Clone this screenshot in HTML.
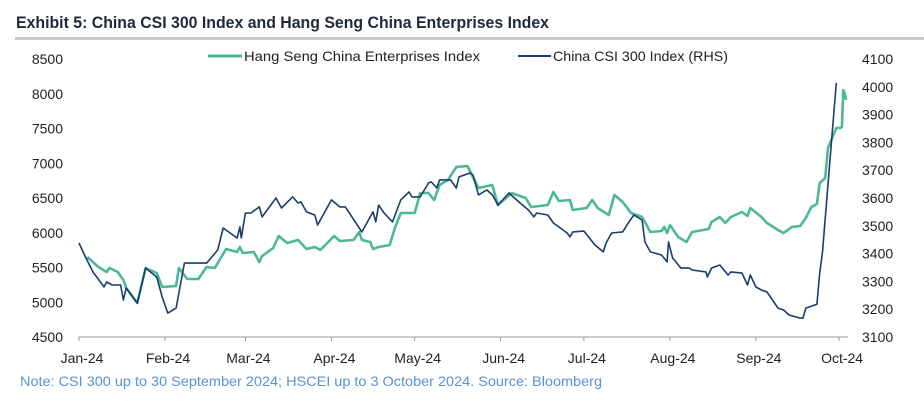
<!DOCTYPE html>
<html><head><meta charset="utf-8"><style>
body{margin:0;background:#fff;width:924px;height:407px;overflow:hidden;font-family:"Liberation Sans",sans-serif}
</style></head><body>
<svg id="chart" width="924" height="407" xmlns="http://www.w3.org/2000/svg">
<text x="16" y="28" font-size="16.5" font-weight="bold" fill="#1e2a3a" textLength="533" lengthAdjust="spacingAndGlyphs">Exhibit 5: China CSI 300 Index and Hang Seng China Enterprises Index</text>
<rect x="15" y="37" width="909" height="3" fill="#c8c8c8"/>
<g>
<line x1="208" y1="56" x2="242" y2="56" stroke="#4db898" stroke-width="3"/>
<text x="244" y="61" font-size="14" fill="#222" textLength="236" lengthAdjust="spacingAndGlyphs">Hang Seng China Enterprises Index</text>
<line x1="518" y1="56" x2="551" y2="56" stroke="#1a3c6e" stroke-width="2"/>
<text x="553" y="61" font-size="14" fill="#222" textLength="175" lengthAdjust="spacingAndGlyphs">China CSI 300 Index (RHS)</text>
</g>
<line x1="79" y1="337" x2="848" y2="337" stroke="#999" stroke-width="1"/>
<g id="marks"></g>
<text x="20" y="386" font-size="14" fill="#5b8fd6" textLength="582" lengthAdjust="spacingAndGlyphs">Note: CSI 300 up to 30 September 2024; HSCEI up to 3 October 2024. Source: Bloomberg</text>
</svg>
<script>
const leftTicks=[4500,5000,5500,6000,6500,7000,7500,8000,8500];
const rightTicks=[3100,3200,3300,3400,3500,3600,3700,3800,3900,4000,4100];
const monthLabels=["Jan-24","Feb-24","Mar-24","Apr-24","May-24","Jun-24","Jul-24","Aug-24","Sep-24","Oct-24"];
const monthDays=[0,31,60,91,121,152,182,213,244,274];
const hsDays=[3,7,10,11,14,16,17,21,24,28,30,35,36,39,43,46,49,53,57,58,59,63,65,66,70,72,75,79,82,85,87,92,94,99,101,102,105,106,108,112,114,116,121,123,126,128,130,133,136,140,142,144,149,151,156,161,163,166,169,171,173,177,178,183,185,187,191,193,196,199,203,206,210,211,212,213,216,219,221,227,228,231,233,235,239,241,242,246,248,252,254,257,260,262,264,266,267,269,270,273,274.5,275,275.5,276,276.5];
const hsValues=[5651,5507,5435,5493,5435,5320,5205,4989,5493,5421,5220,5234,5493,5335,5335,5507,5493,5766,5723,5795,5709,5723,5579,5666,5781,5953,5853,5896,5766,5795,5752,5953,5881,5896,6011,5896,5867,5766,5795,5824,6083,6284,6284,6572,6572,6471,6687,6759,6946,6960,6802,6644,6687,6399,6572,6500,6371,6385,6399,6586,6457,6471,6327,6356,6471,6356,6255,6543,6443,6284,6227,6011,6025,6083,5997,6112,5939,5867,6011,6054,6155,6227,6140,6227,6299,6241,6356,6227,6140,6040,5997,6083,6097,6212,6371,6414,6716,6788,7219,7507,7507,7522,8054,8011,7910];
const csiDays=[0,2,5,8,9,10,12,15,16,17,21,24,28,30,32,35,38,46,50,52,57,58,58.5,60,62,65,66,71,73,77,79,80,82,85,86,91,94,96,102,106,107,108,110,113,116,119,120,123,126,127,129,130,134,136,137,141,142,144,147,149,151,155,157,159,162,164,165,169,171,176,177,178,182,186,189,190,192,196,198,200,203,204,206,210,212,212.5,214,217,220,221,226,226.5,228,231,234,235,239,241,242,244,246,248,250,252,254,256,260,261,262,266,267,268,273];
const csiValues=[3438,3395,3334,3294,3280,3298,3287,3287,3233,3276,3222,3348,3316,3244,3186,3204,3366,3366,3413,3492,3456,3496,3456,3546,3546,3568,3532,3600,3564,3604,3582,3586,3550,3539,3503,3593,3568,3568,3478,3550,3514,3575,3546,3514,3593,3622,3604,3604,3654,3658,3636,3665,3665,3636,3676,3690,3683,3611,3629,3611,3575,3618,3600,3582,3557,3532,3546,3539,3510,3474,3460,3478,3481,3431,3406,3438,3474,3478,3510,3539,3521,3442,3406,3395,3370,3442,3384,3348,3348,3341,3334,3316,3348,3359,3323,3334,3330,3287,3323,3280,3269,3262,3233,3204,3197,3179,3168,3168,3204,3218,3330,3402,4014];

const NS="http://www.w3.org/2000/svg";
const g=document.getElementById('marks');
const yTop=59,yBot=337,x0=79,pxDay=2.774;
function xS(d){return x0+d*pxDay;}
function yL(v){return yBot-(v-4500)/4000*(yBot-yTop);}
function yR(v){return yBot-(v-3100)/1000*(yBot-yTop);}
function mk(tag,attrs){const e=document.createElementNS(NS,tag);for(const k in attrs)e.setAttribute(k,attrs[k]);g.appendChild(e);return e;}

leftTicks.forEach(v=>{
  const t=mk('text',{x:63,y:yL(v)+5,'font-size':14,fill:'#222','text-anchor':'end'});
  
  
  t.textContent=v;
});
rightTicks.forEach(v=>{
  const t=mk('text',{x:862,y:yR(v)+5,'font-size':14,fill:'#222'});
  
  
  t.textContent=v;
});
monthLabels.forEach((m,i)=>{
  const x=xS(monthDays[i]);
  const tk=mk('line',{x1:x,y1:337,x2:x,y2:341,stroke:'#999'});
  
  
  const t=mk('text',{x:x+3,y:363,'font-size':14,fill:'#222','text-anchor':'middle'});
  
  
  t.textContent=m;
});
const hp=hsDays.map((d,i)=>xS(d).toFixed(1)+','+yL(hsValues[i]).toFixed(1)).join(' ');
const hl=mk('polyline',{points:hp,fill:'none',stroke:'#4db898','stroke-width':2.6,'stroke-linejoin':'round'});


const cp=csiDays.map((d,i)=>xS(d).toFixed(1)+','+yR(csiValues[i]).toFixed(1)).join(' ');
const cl=mk('polyline',{points:cp,fill:'none',stroke:'#1a3c6e','stroke-width':1.6,'stroke-linejoin':'round'});


</script>
</body></html>
